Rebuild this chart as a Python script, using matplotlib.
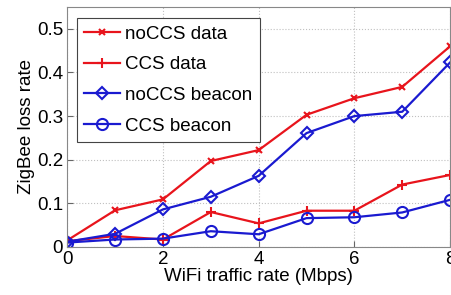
import matplotlib
matplotlib.use("Agg")
import matplotlib.pyplot as plt

x = [0, 1, 2, 3, 4, 5, 6, 7, 8]
nocss_data = [0.015, 0.084, 0.109, 0.197, 0.222, 0.303, 0.341, 0.367, 0.460]
ccs_data = [0.013, 0.025, 0.017, 0.080, 0.054, 0.083, 0.083, 0.143, 0.165]
nocss_beacon = [0.012, 0.030, 0.086, 0.115, 0.163, 0.261, 0.300, 0.310, 0.423]
ccs_beacon = [0.010, 0.017, 0.019, 0.036, 0.029, 0.066, 0.068, 0.079, 0.108]
labels = ["noCCS data", "CCS data", "noCCS beacon", "CCS beacon"]

plt.rcParams['font.family'] = ['Liberation Sans', 'DejaVu Sans']
fig = plt.figure(figsize=(4.51, 2.95), dpi=100)
ax = fig.add_axes([0.149, 0.163, 0.849, 0.813])

red = '#e8141c'
blue = '#1a1ad0'
ax.plot(x, nocss_data, color=red, lw=1.6, marker='x', ms=5, mew=1.5, label=labels[0])
ax.plot(x, ccs_data, color=red, lw=1.6, marker='+', ms=7, mew=1.5, label=labels[1])
ax.plot(x, nocss_beacon, color=blue, lw=1.6, marker='D', ms=6.5, mew=1.5, mfc='none', label=labels[2])
ax.plot(x, ccs_beacon, color=blue, lw=1.6, marker='o', ms=8, mew=1.5, mfc='none', label=labels[3])

ax.set_xlim(0, 8)
ax.set_ylim(0, 0.55)
ax.set_xticks([0, 2, 4, 6, 8])
ax.set_yticks([0, 0.1, 0.2, 0.3, 0.4, 0.5])
ax.set_yticklabels(['0', '0.1', '0.2', '0.3', '0.4', '0.5'])
ax.grid(True, linestyle=':', color='#c0c0c0', lw=0.8)
ax.tick_params(direction='in', labelsize=13.5, color='#666666', length=4, pad=3)
for s in ax.spines.values():
    s.set_color('#888888')
ax.set_xlabel('WiFi traffic rate (Mbps)', fontsize=13.5, labelpad=0)
ax.set_ylabel('ZigBee loss rate', fontsize=13.5, labelpad=1)

leg = ax.legend(loc='upper left', fontsize=13.5, handlelength=1.9, handletextpad=0.3,
                labelspacing=0.72, borderpad=0.4, fancybox=False, framealpha=1,
                edgecolor='#444444', bbox_to_anchor=(0.0, 0.993))
leg.get_frame().set_linewidth(0.8)

fig.savefig('out.png', dpi=100)
